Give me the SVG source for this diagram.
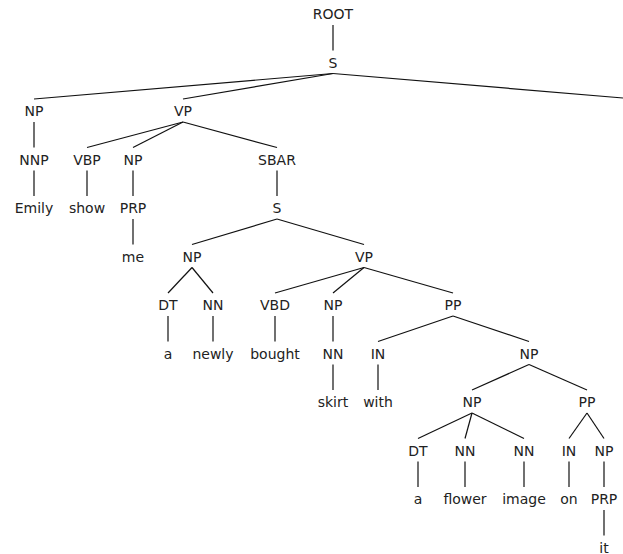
<svg xmlns="http://www.w3.org/2000/svg" width="623" height="554" viewBox="0 0 623 554">
<style>
text{font-family:"DejaVu Sans","Liberation Sans",sans-serif;font-size:14px;fill:#222;text-anchor:middle}
.e line{stroke:#111;stroke-width:1.2;fill:none}
</style>
<rect width="623" height="554" fill="#fff"/>
<g class="e" id="connectors">
<line x1="333" y1="25" x2="333" y2="50.5"/>
<line x1="333" y1="73.5" x2="34" y2="99"/>
<line x1="333" y1="73.5" x2="183" y2="99"/>
<line x1="333" y1="73.5" x2="623" y2="98"/>
<line x1="34" y1="122" x2="34" y2="147.5"/>
<line x1="34" y1="170.5" x2="34" y2="196"/>
<line x1="183" y1="122" x2="87" y2="147.5"/>
<line x1="183" y1="122" x2="133" y2="147.5"/>
<line x1="183" y1="122" x2="277" y2="147.5"/>
<line x1="87" y1="170.5" x2="87" y2="196"/>
<line x1="133" y1="170.5" x2="133" y2="196"/>
<line x1="133" y1="219" x2="133" y2="244.5"/>
<line x1="277" y1="170.5" x2="277" y2="196"/>
<line x1="277" y1="219" x2="192" y2="244.5"/>
<line x1="277" y1="219" x2="364" y2="244.5"/>
<line x1="192" y1="267.5" x2="168" y2="293"/>
<line x1="192" y1="267.5" x2="213" y2="293"/>
<line x1="168" y1="316" x2="168" y2="341.5"/>
<line x1="213" y1="316" x2="213" y2="341.5"/>
<line x1="364" y1="267.5" x2="275" y2="293"/>
<line x1="364" y1="267.5" x2="333" y2="293"/>
<line x1="364" y1="267.5" x2="453" y2="293"/>
<line x1="275" y1="316" x2="275" y2="341.5"/>
<line x1="333" y1="316" x2="333" y2="341.5"/>
<line x1="333" y1="364.5" x2="333" y2="390"/>
<line x1="453" y1="316" x2="378" y2="341.5"/>
<line x1="453" y1="316" x2="529" y2="341.5"/>
<line x1="378" y1="364.5" x2="378" y2="390"/>
<line x1="529" y1="364.5" x2="472" y2="390"/>
<line x1="529" y1="364.5" x2="587" y2="390"/>
<line x1="472" y1="413" x2="418" y2="438.5"/>
<line x1="472" y1="413" x2="465" y2="438.5"/>
<line x1="472" y1="413" x2="524" y2="438.5"/>
<line x1="418" y1="461.5" x2="418" y2="487"/>
<line x1="465" y1="461.5" x2="465" y2="487"/>
<line x1="524" y1="461.5" x2="524" y2="487"/>
<line x1="587" y1="413" x2="569" y2="438.5"/>
<line x1="587" y1="413" x2="604" y2="438.5"/>
<line x1="569" y1="461.5" x2="569" y2="487"/>
<line x1="604" y1="461.5" x2="604" y2="487"/>
<line x1="604" y1="510" x2="604" y2="535.5"/>
</g>
<g id="n-root"><text x="333" y="19">ROOT</text></g>
<g id="n-s1"><text x="333" y="67.5">S</text></g>
<g id="n-np1"><text x="34" y="116">NP</text></g>
<g id="n-vp1"><text x="183" y="116">VP</text></g>
<g id="n-nnp"><text x="34" y="164.5">NNP</text></g>
<g id="n-vbp"><text x="87" y="164.5">VBP</text></g>
<g id="n-np2"><text x="133" y="164.5">NP</text></g>
<g id="n-sbar"><text x="277" y="164.5">SBAR</text></g>
<g id="w-emily"><text x="34" y="213">Emily</text></g>
<g id="w-show"><text x="87" y="213">show</text></g>
<g id="n-prp1"><text x="133" y="213">PRP</text></g>
<g id="n-s2"><text x="277" y="213">S</text></g>
<g id="w-me"><text x="133" y="261.5">me</text></g>
<g id="n-np3"><text x="192" y="261.5">NP</text></g>
<g id="n-vp2"><text x="364" y="261.5">VP</text></g>
<g id="n-dt1"><text x="168" y="310">DT</text></g>
<g id="n-nn1"><text x="213" y="310">NN</text></g>
<g id="n-vbd"><text x="275" y="310">VBD</text></g>
<g id="n-np4"><text x="333" y="310">NP</text></g>
<g id="n-pp1"><text x="453" y="310">PP</text></g>
<g id="w-a1"><text x="168" y="358.5">a</text></g>
<g id="w-newly"><text x="213" y="358.5">newly</text></g>
<g id="w-bought"><text x="275" y="358.5">bought</text></g>
<g id="n-nn2"><text x="333" y="358.5">NN</text></g>
<g id="n-in1"><text x="378" y="358.5">IN</text></g>
<g id="n-np5"><text x="529" y="358.5">NP</text></g>
<g id="w-skirt"><text x="333" y="407">skirt</text></g>
<g id="w-with"><text x="378" y="407">with</text></g>
<g id="n-np6"><text x="472" y="407">NP</text></g>
<g id="n-pp2"><text x="587" y="407">PP</text></g>
<g id="n-dt2"><text x="418" y="455.5">DT</text></g>
<g id="n-nn3"><text x="465" y="455.5">NN</text></g>
<g id="n-nn4"><text x="524" y="455.5">NN</text></g>
<g id="n-in2"><text x="569" y="455.5">IN</text></g>
<g id="n-np7"><text x="604" y="455.5">NP</text></g>
<g id="w-a2"><text x="418" y="504">a</text></g>
<g id="w-flower"><text x="465" y="504">flower</text></g>
<g id="w-image"><text x="524" y="504">image</text></g>
<g id="w-on"><text x="569" y="504">on</text></g>
<g id="n-prp2"><text x="604" y="504">PRP</text></g>
<g id="w-it"><text x="604" y="552.5">it</text></g>
</svg>
